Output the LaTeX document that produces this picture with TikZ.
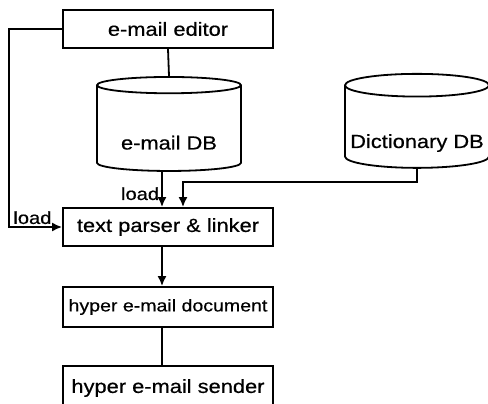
\documentclass[tikz,border=0pt]{standalone}
\usepackage{fontspec}
\setmainfont[FakeStretch=1.15,FakeBold=0.6]{Liberation Sans}
\usetikzlibrary{shapes.geometric}
\usetikzlibrary{arrows.meta}
\tikzset{
	box/.style={draw, line width=1.8pt, minimum width=210pt, inner sep=0pt, font=\fontsize{19}{21}\selectfont},
	db/.style={draw, line width=1.8pt, cylinder, shape border rotate=90, aspect=0.17, minimum width=144pt, minimum height=94pt, inner sep=0pt, font=\fontsize{19}{21}\selectfont},
	link/.style={line width=1.8pt},
	feed/.style={line width=1.8pt, -{Latex[length=10pt,width=9pt]}},
	tag/.style={font=\fontsize{17.5}{19}\selectfont, inner sep=2pt},
}
% push a label down into the body of a cylinder
\newcommand{\lowtext}[1]{\smash{\raisebox{-21pt}{#1}}}

\begin{document}
\begin{tikzpicture}[x=1pt,y=1pt]
	\useasboundingbox (0,0) rectangle (488,404);
	
	% boxes of the pipeline
	\node[box, minimum height=38pt] (editor) at (168,375) {e-mail editor};
	\node[box, minimum height=38pt] (parser) at (168,177) {text parser \& linker};
	\node[box, minimum height=40pt, font=\fontsize{17}{19}\selectfont] (document) at (168,97) {hyper e-mail document};
	\node[box, minimum height=44pt] (sender) at (168,16) {hyper e-mail sender};
	
	% the two databases
	\node[db] (maildb) at (169,275.5) {\lowtext{e-mail DB}};
	\node[db] (dictdb) at (417,277) {\lowtext{Dictionary DB}};
	
	% editor stores into e-mail DB
	\draw[link] (editor.south) -- (maildb.top);
	
	% loads into the parser
	\draw[feed] ([xshift=-7pt]maildb.bottom) -- ([xshift=-6pt]parser.north)
		node[tag, pos=0.62, left] {load};
	\draw[feed] (dictdb.bottom) -- ++(0,-13) -| ([xshift=15pt]parser.north);
	\draw[feed] (editor.west) -- ++(-53,0) |- (parser.west)
		node[tag, pos=0.72, above] {load};
	
	% output side
	\draw[feed] ([xshift=-6pt]parser.south) -- ([xshift=-6pt]document.north);
	\draw[link] ([xshift=-6pt]document.south) -- ([xshift=-6pt]sender.north);
	
\end{tikzpicture}
\end{document}
